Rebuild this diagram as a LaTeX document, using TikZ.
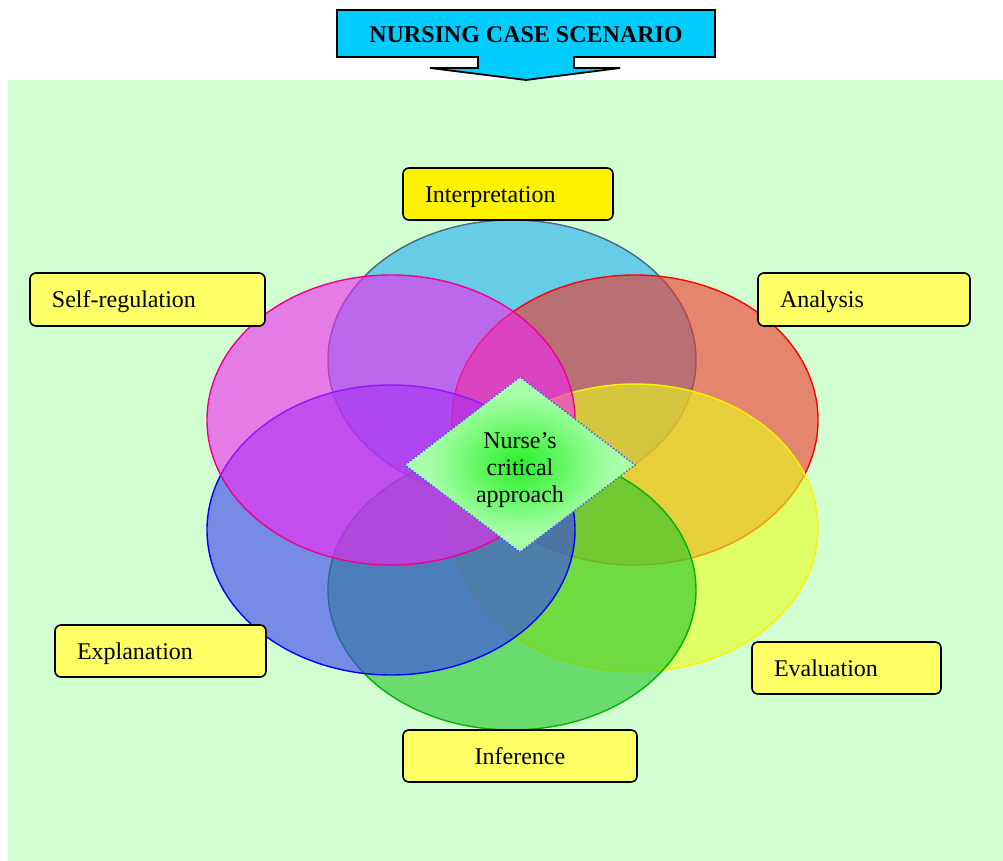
\documentclass[tikz,border=0pt]{standalone}
\usepackage{fontspec}
\setmainfont{Liberation Serif}
\usetikzlibrary{calc}
\definecolor{bggreen}{RGB}{210,255,210}
\definecolor{headcyan}{RGB}{0,204,255}
\definecolor{paleyellow}{RGB}{255,255,102}
\definecolor{lenscyan}{RGB}{33,170,243}
\definecolor{lensred}{RGB}{240,52,43}
\definecolor{lensyellow}{RGB}{233,255,27}
\definecolor{lensgreen}{RGB}{35,197,43}
\definecolor{lensblue}{RGB}{57,63,243}
\definecolor{lensmagenta}{RGB}{243,38,243}
\definecolor{corein}{RGB}{40,240,40}
\definecolor{coreout}{RGB}{168,255,168}
\pgfdeclareradialshading{corefade}{\pgfpoint{0bp}{0bp}}{color(0bp)=(corein); color(4bp)=(corein!80!coreout); color(20bp)=(coreout); color(50bp)=(coreout)}
\tikzset{
	skill/.style={draw=black, line width=0.8pt, rounded corners=3pt, inner sep=0pt, text height=8.5pt, text depth=0pt, font=\fontsize{12}{14}\selectfont},
	lens/.style={line width=0.7pt, fill opacity=0.6},
}
\newcommand{\skillbox}[8][left] % align, name, left, top, right, bottom, fill, text
{
	\pgfmathsetmacro{\skw}{(#5-#3)*0.5}
	\pgfmathsetmacro{\skh}{(#6-#4)*0.5}
	\pgfmathsetmacro{\sktw}{(#5-#3-44)*0.5}
	\node[skill, fill=#7, minimum width=\skw pt, minimum height=\skh pt, text width=\sktw pt, align=#1] (#2) at ({(#3+#5)/2},{(#4+#6)/2}) {#8};
}
\newcommand{\lensat}[5] % x, y, x radius, y radius, colour
{
	\draw[lens, draw=#5, fill=lens#5] (#1,#2) ellipse [x radius=#3, y radius=#4];
}

\begin{document}
\begin{tikzpicture}[x=0.5pt, y=-0.5pt]
	% page 1003 x 861 px
	\useasboundingbox (0,0) rectangle (1003,861);
	\fill[bggreen] (8,80) rectangle (1003,861);
	
	% heading arrow
	\draw[fill=headcyan, line width=0.9pt] (337,10) -- (715,10) -- (715,57) -- (574,57) -- (574,68) -- (620,68) -- (526,80) -- (430,68) -- (478,68) -- (478,57) -- (337,57) -- cycle;
	\node[font=\fontsize{12}{14}\selectfont\bfseries] (title) at (526,35) {NURSING CASE SCENARIO};
	
	% overlapping lenses
	\draw[lens, draw=black!60!cyan, fill=lenscyan] (512,360) ellipse [x radius=184, y radius=140];
	\lensat{635}{420}{183}{145}{red};
	\lensat{635}{528}{183}{144}{yellow};
	\draw[lens, draw=green!70!black, fill=lensgreen] (512,590) ellipse [x radius=184, y radius=140];
	\lensat{391}{530}{184}{145}{blue};
	\lensat{391}{420}{184}{145}{magenta};
	
	% centre diamond
	\shade[shading=corefade] (405,465) -- (520,377) -- (635,465) -- (520,552) -- cycle;
	\draw[blue!70!white, densely dotted, line width=0.7pt] (405,465) -- (520,377) -- (635,465) -- (520,552) -- cycle;
	\node[font=\fontsize{12}{13.5}\selectfont, align=center] (core) at (520,470) {Nurse’s\\critical\\approach};
	
	% skill boxes
	\skillbox{interp}{403}{168}{613}{220}{yellow}{Interpretation}
	\skillbox{selfreg}{30}{273}{265}{326}{paleyellow}{Self-regulation}
	\skillbox{analysis}{758}{273}{970}{326}{paleyellow}{Analysis}
	\skillbox{explan}{55}{625}{266}{677}{paleyellow}{Explanation}
	\skillbox{evaluat}{752}{642}{941}{694}{paleyellow}{Evaluation}
	\skillbox[center]{infer}{403}{730}{637}{782}{paleyellow}{Inference}
	
\end{tikzpicture}
\end{document}
